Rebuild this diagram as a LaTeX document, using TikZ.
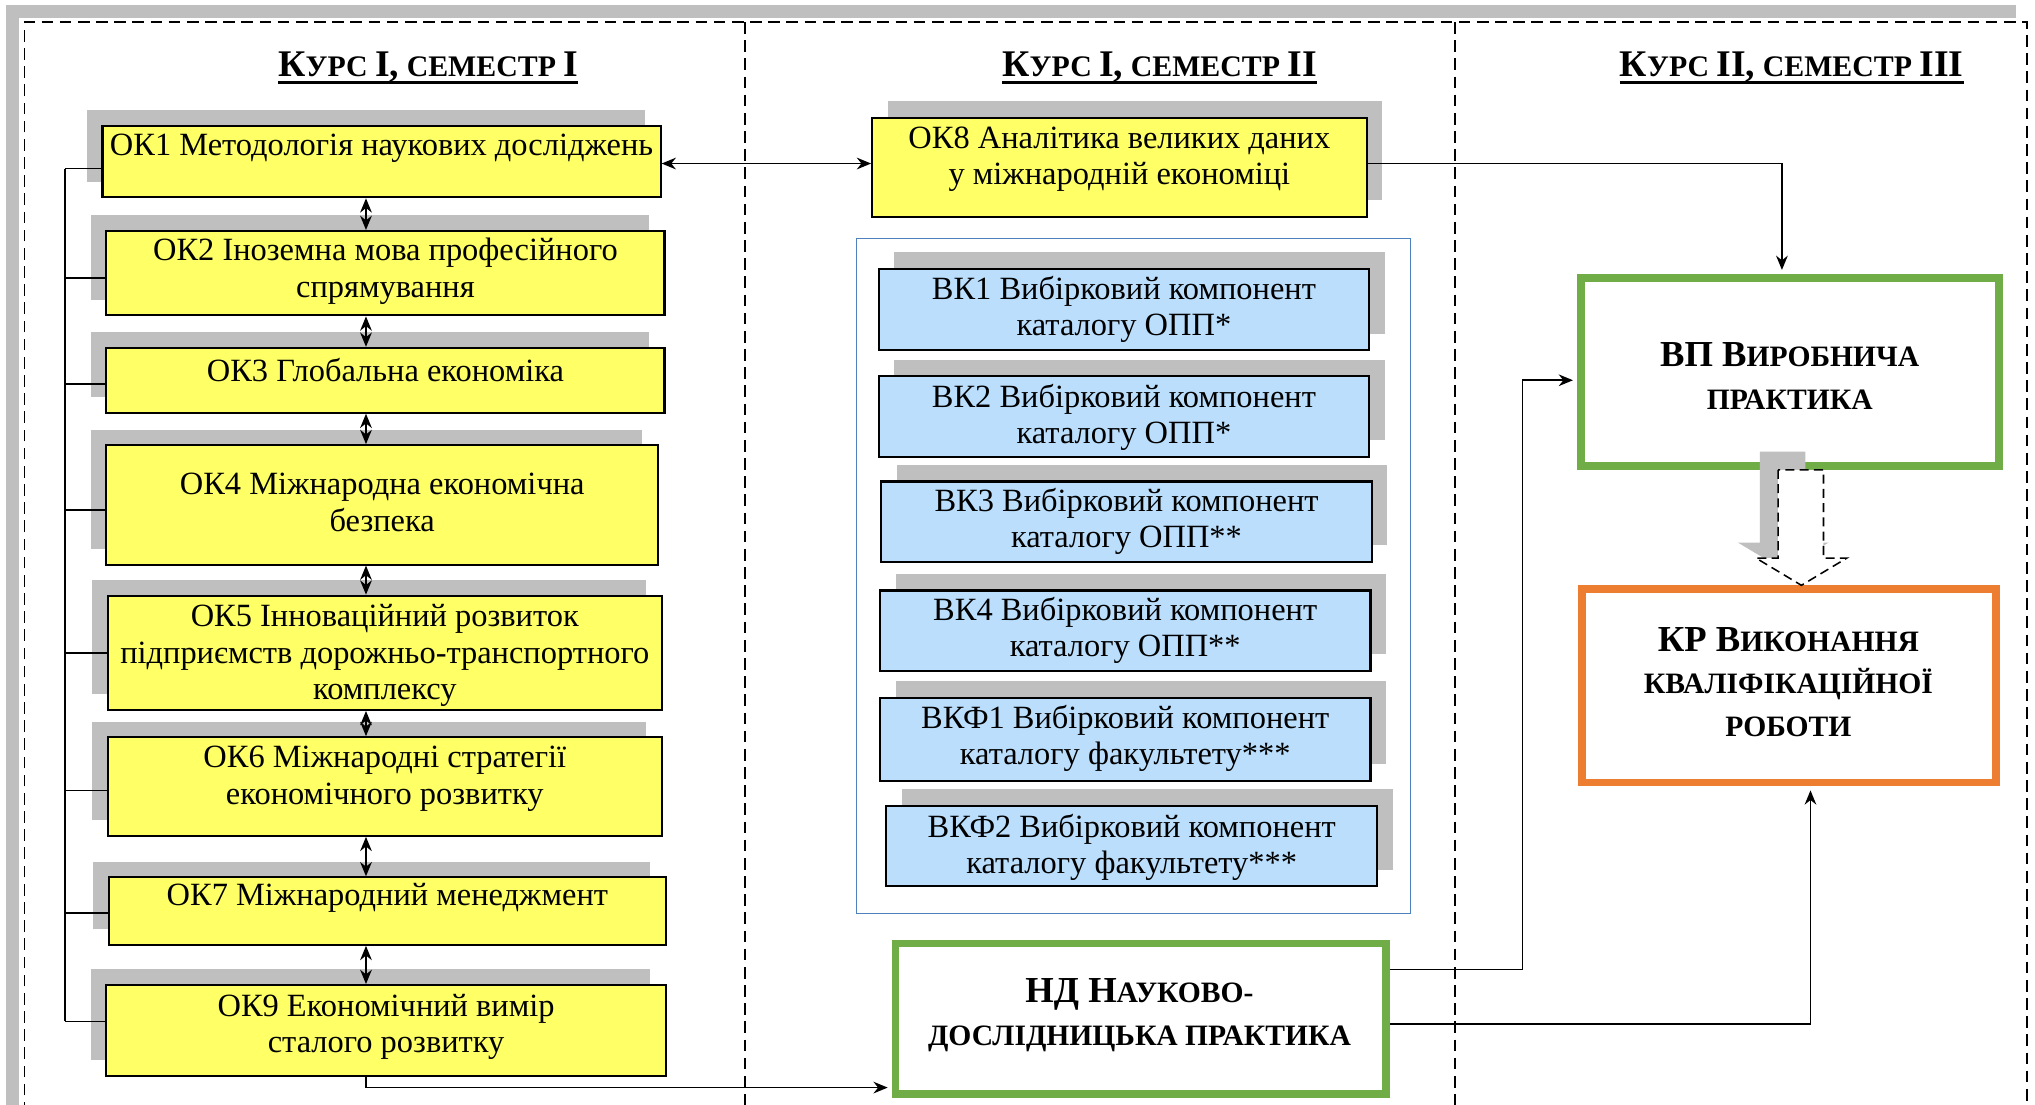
\documentclass[tikz,border=0pt]{standalone}
\usepackage{fontspec}
\setmainfont{Liberation Serif}
\usetikzlibrary{arrows.meta,calc}
\definecolor{yel}{RGB}{255,255,102}
\definecolor{lblue}{RGB}{186,222,252}
\definecolor{shgray}{RGB}{191,191,191}
\definecolor{grn}{RGB}{112,173,71}
\definecolor{org}{RGB}{237,125,49}
\definecolor{frblue}{RGB}{79,129,189}
\newcommand\bodyf{\fontsize{25}{28}\selectfont}
\newcommand\ttlB[1]{{\fontsize{29}{30}\selectfont #1}}
\newcommand\ttlS[1]{{\fontsize{23}{30}\selectfont #1}}
\newcommand\bxB[1]{{\fontsize{28.2}{33}\selectfont #1}}
\newcommand\bxS[1]{{\fontsize{22.8}{33}\selectfont #1}}
\newcommand\mkbox[8]{%
  \node[shbox, minimum width=#4, minimum height=#5] (#1s) at ($#3+#6$) {};
  \node[#2, minimum width=#4, minimum height=#5] (#1) at #3 {};
  \node[txt] (#1t) at ($#3+(0,#7)$) {#8};
}
\begin{document}
\begin{tikzpicture}[x=1pt,y=-1pt,
  ybox/.style={draw=black, line width=1.6pt, fill=yel, inner sep=0pt},
  bbox/.style={draw=black, line width=1.6pt, fill=lblue, inner sep=0pt},
  shbox/.style={fill=shgray, draw=none, inner sep=0pt},
  txt/.style={font=\bodyf, align=center, inner sep=0pt},
  btxt/.style={font=\bfseries\fontsize{22.8}{33}\selectfont, align=center, inner sep=0pt},
  ttl/.style={font=\bfseries\fontsize{23}{30}\selectfont, inner sep=0pt, anchor=base},
  gbox/.style={draw=#1, line width=6pt, fill=white, inner sep=0pt},
  dfr/.style={line width=1.2pt, dash pattern=on 9pt off 5pt},
  conn/.style={line width=1.2pt},
  arr/.style={line width=1.2pt, -{Stealth[length=11pt,width=9pt]}},
  darr/.style={line width=1.2pt, {Stealth[length=11pt,width=9pt]}-{Stealth[length=11pt,width=9pt]}}
]
\useasboundingbox (0,0) rectangle (1568,851);
\clip (0,0) rectangle (1568,851);
\fill[white] (0,0) rectangle (1568,851);
% outer frame with shadow
\fill[shgray] (5,4) rectangle (1553,900);
\fill[white] (15,14) rectangle (1570,900);
\draw[dfr] (19,900) -- (19,17) -- (1562,17) -- (1562,900);
\draw[dfr] (574,17) -- (574,900);
\draw[dfr] (1121,17) -- (1121,900);
% titles
\node[ttl] (t1) at (330,59) {\ttlB{К}\ttlS{УРС} \ttlB{I,} \ttlS{СЕМЕСТР} \ttlB{I}};
\node[ttl] (t2) at (893.5,59) {\ttlB{К}\ttlS{УРС} \ttlB{I,} \ttlS{СЕМЕСТР} \ttlB{II}};
\node[ttl] (t3) at (1380.5,59) {\ttlB{К}\ttlS{УРС} \ttlB{II,} \ttlS{СЕМЕСТР} \ttlB{III}};
\foreach \t in {t1,t2,t3}{\draw[line width=2.4pt] ($(\t.base west)+(0,4.5)$) -- ($(\t.base east)+(0,4.5)$);}
% left column
\mkbox{ok1}{ybox}{(294,124.5)}{430}{55}{(-12,-12)}{-10.5}{ОК1 Методологія наукових досліджень}
\mkbox{ok2}{ybox}{(297,210.5)}{430}{65}{(-12,-12)}{-1.5}{ОК2 Іноземна мова професійного\\спрямування}
\mkbox{ok3}{ybox}{(297,293)}{430}{50}{(-12,-12)}{-8}{ОК3 Глобальна економіка}
\mkbox{ok4}{ybox}{(294.5,389)}{425}{92}{(-12,-12)}{-2}{ОК4 Міжнародна економічна\\безпека}
\mkbox{ok5}{ybox}{(296.5,503)}{427}{88}{(-12,-12)}{2}{ОК5 Інноваційний розвиток\\підприємств дорожньо-транспортного\\комплексу}
\mkbox{ok6}{ybox}{(296.5,606)}{427}{76}{(-12,-12)}{-6}{ОК6 Міжнародні стратегії\\економічного розвитку}
\mkbox{ok7}{ybox}{(298.5,702)}{429}{52}{(-12,-12)}{-10}{ОК7 Міжнародний менеджмент}
\mkbox{ok9}{ybox}{(297.5,794)}{431}{70}{(-12,-12)}{-3}{ОК9 Економічний вимір\\сталого розвитку}
% middle column
\node[draw=frblue, line width=1pt, minimum width=427, minimum height=520, inner sep=0pt] (vkgroup) at (873.5,444) {};
\mkbox{ok8}{ybox}{(862.5,129)}{381}{76}{(12,-13)}{-6.5}{ОК8 Аналітика великих даних\\у міжнародній економіці}
\mkbox{vk1}{bbox}{(866,238.5)}{378}{63}{(12,-13)}{0}{ВК1 Вибірковий компонент\\каталогу ОПП*}
\mkbox{vk2}{bbox}{(866,321)}{378}{62}{(12,-13)}{0.5}{ВК2 Вибірковий компонент\\каталогу ОПП*}
\mkbox{vk3}{bbox}{(868,402)}{378}{62}{(12,-13)}{-0.5}{ВК3 Вибірковий компонент\\каталогу ОПП**}
\mkbox{vk4}{bbox}{(867,486)}{378}{62}{(12,-13)}{-0.5}{ВК4 Вибірковий компонент\\каталогу ОПП**}
\mkbox{vkf1}{bbox}{(867,570)}{378}{64}{(12,-13)}{-1}{ВКФ1 Вибірковий компонент\\каталогу факультету***}
\mkbox{vkf2}{bbox}{(872,652)}{378}{62}{(12,-13)}{1}{ВКФ2 Вибірковий компонент\\каталогу факультету***}
% double-bordered boxes
\node[gbox=grn, minimum width=378, minimum height=116] (nd) at (879,785) {};
\draw[grn, line width=1.5pt] ([shift={(5,5)}]nd.north west) rectangle ([shift={(-5,-5)}]nd.south east);
\node[btxt] (ndt) at (878,782.5) {\bxB{НД Н}\bxS{АУКОВО-}\\\bxS{ДОСЛІДНИЦЬКА ПРАКТИКА}};
\node[gbox=grn, minimum width=322, minimum height=145] (vp) at (1379,286.5) {};
\draw[grn, line width=1.5pt] ([shift={(5,5)}]vp.north west) rectangle ([shift={(-5,-5)}]vp.south east);
\node[btxt] (vpt) at (1379,289.5) {\bxB{ВП В}\bxS{ИРОБНИЧА}\\\bxS{ПРАКТИКА}};
\node[gbox=org, minimum width=319, minimum height=149] (kr) at (1378.5,528.5) {};
\draw[org, line width=1.5pt] ([shift={(5,5)}]kr.north west) rectangle ([shift={(-5,-5)}]kr.south east);
\node[btxt] (krt) at (1378,525.5) {\bxB{КР В}\bxS{ИКОНАННЯ}\\\bxS{КВАЛІФІКАЦІЙНОЇ}\\\bxS{РОБОТИ}};
% left bracket
\coordinate (bx) at (50,0);
\coordinate (ax) at (282,0);
\foreach \b/\d in {ok1/5.5,ok2/3.5,ok3/3,ok4/4,ok5/0,ok6/3,ok7/1.5,ok9/-7}{
  \draw[conn] ($(\b.west)+(0,\d)$) -- ($(\b.west -| bx)+(0,\d)$);
}
\draw[conn] ($(ok1.west -| bx)+(0,5.5)$) -- ($(ok9.west -| bx)+(0,-7)$);
% vertical double arrows
\foreach \a/\b in {ok1/ok2,ok2/ok3,ok3/ok4,ok4/ok5,ok5/ok6,ok6/ok7,ok7/ok9}{
  \draw[darr] (\a.south -| ax) -- (\b.north -| ax);
}
% horizontal connectors
\draw[darr] ($(ok1.east)+(0,1.5)$) coordinate (a18) -- (a18 -| ok8.west);
\draw[arr] ($(ok8.east)+(0,-3)$) -| ($(vp.north)+(-6,-3)$);
\draw[arr] (ok9.south -| ax) |- ($(nd.west)+(-3,53)$);
\draw[arr] ($(nd.east)+(0,-38)$) -| ($(vp.west)+(-42,6.5)$) -- ($(vp.west)+(-3,6.5)$);
\draw[arr] ($(nd.east)+(0,4)$) -| ($(kr.south)+(16.5,3)$);
% hollow dashed arrow VP -> KR
\fill[shgray] (1356,348) -- (1356,418) -- (1339,418) -- (1374,439) -- (1409,418) -- (1391,418) -- (1391,348) -- cycle;
\filldraw[fill=white, draw=black, line width=1.2pt, dash pattern=on 7pt off 4pt] (1370,362) -- (1370,430) -- (1353,430) -- (1388,451) -- (1423,430) -- (1405,430) -- (1405,362) -- cycle;
\end{tikzpicture}
\end{document}
